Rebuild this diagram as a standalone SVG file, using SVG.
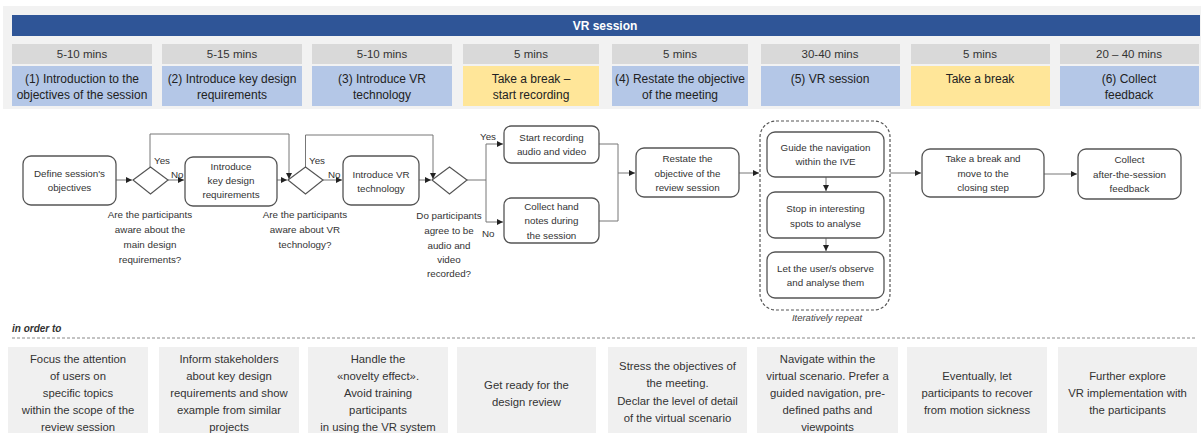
<svg xmlns="http://www.w3.org/2000/svg" width="1203" height="433" viewBox="0 0 1203 433">
<defs>
<style>
text{font-family:"Liberation Sans",Arial,sans-serif;fill:#333;text-anchor:middle}
.hd{font-size:12px;font-weight:bold;fill:#fff}
.du{font-size:11.5px}
.ph{font-size:12px;fill:#222}
.nt{font-size:9.8px;fill:#333}
.lb{font-size:9.8px;fill:#333;text-anchor:start}
.bt{font-size:11.3px;fill:#333}
.box{fill:#fff;stroke:#555;stroke-width:1.3}
.dia{fill:#fff;stroke:#555;stroke-width:1.2}
.cn{fill:none;stroke:#777;stroke-width:1}
.gr{fill:#d9d9d9}
.bl{fill:#b4c7e7}
.ye{fill:#ffe699}
.ob{fill:#f0f0f0}
</style>
<marker id="ah" markerWidth="7" markerHeight="6" refX="6" refY="3" orient="auto" markerUnits="userSpaceOnUse">
<path d="M0,0 L6,3 L0,6 z" fill="#222"/>
</marker>
</defs>
<rect width="1203" height="433" fill="#fff"/>
<g id="header">
<rect x="3" y="6" width="1198" height="103" fill="#f2f2f2"/>
<rect x="12" y="15" width="1188" height="21" fill="#2f5597"/>
<text class="hd" x="605" y="30">VR session</text>
</g>
<g id="phases">
<g id="ph1"><rect class="gr" x="12" y="44" width="140" height="20"/><text class="du" x="82" y="58">5-10 mins</text><rect class="bl" x="12" y="66" width="140" height="40"/><text class="ph" x="82" y="83">(1) Introduction to the<tspan x="82" y="99">objectives of the session</tspan></text></g>
<g id="ph2"><rect class="gr" x="162" y="44" width="140" height="20"/><text class="du" x="232" y="58">5-15 mins</text><rect class="bl" x="162" y="66" width="140" height="40"/><text class="ph" x="232" y="83">(2) Introduce key design<tspan x="232" y="99">requirements</tspan></text></g>
<g id="ph3"><rect class="gr" x="312" y="44" width="140" height="20"/><text class="du" x="382" y="58">5-10 mins</text><rect class="bl" x="312" y="66" width="140" height="40"/><text class="ph" x="382" y="83">(3) Introduce VR<tspan x="382" y="99">technology</tspan></text></g>
<g id="ph4"><rect class="gr" x="463" y="44" width="136" height="20"/><text class="du" x="531" y="58">5 mins</text><rect class="ye" x="463" y="66" width="136" height="40"/><text class="ph" x="531" y="83">Take a break –<tspan x="531" y="99">start recording</tspan></text></g>
<g id="ph5"><rect class="gr" x="612" y="44" width="136" height="20"/><text class="du" x="680" y="58">5 mins</text><rect class="bl" x="612" y="66" width="136" height="40"/><text class="ph" x="680" y="83">(4) Restate the objective<tspan x="680" y="99">of the meeting</tspan></text></g>
<g id="ph6"><rect class="gr" x="761" y="44" width="139" height="20"/><text class="du" x="830" y="58">30-40 mins</text><rect class="bl" x="761" y="66" width="139" height="40"/><text class="ph" x="830" y="83">(5) VR session</text></g>
<g id="ph7"><rect class="gr" x="911" y="44" width="139" height="20"/><text class="du" x="980" y="58">5 mins</text><rect class="ye" x="911" y="66" width="139" height="40"/><text class="ph" x="980" y="83">Take a break</text></g>
<g id="ph8"><rect class="gr" x="1060" y="44" width="139" height="20"/><text class="du" x="1129" y="58">20 – 40 mins</text><rect class="bl" x="1060" y="66" width="139" height="40"/><text class="ph" x="1129" y="83">(6) Collect<tspan x="1129" y="99">feedback</tspan></text></g>
</g>
<g id="connectors">
<path class="cn" d="M116,180 H132" marker-end="url(#ah)"/>
<path class="cn" d="M168,180 H184" marker-end="url(#ah)"/>
<path class="cn" d="M150,167 V134 H289 V179" marker-end="url(#ah)"/>
<path class="cn" d="M277,180 H287" marker-end="url(#ah)"/>
<path class="cn" d="M323,180 H342" marker-end="url(#ah)"/>
<path class="cn" d="M305.5,167 V135 H433 V179" marker-end="url(#ah)"/>
<path class="cn" d="M419,180 H431" marker-end="url(#ah)"/>
<path class="cn" d="M467,180 H486"/>
<path class="cn" d="M486,144 V222"/>
<path class="cn" d="M486,144 H503" marker-end="url(#ah)"/>
<path class="cn" d="M486,222 H503" marker-end="url(#ah)"/>
<path class="cn" d="M599,144 H618 V221 H599"/>
<path class="cn" d="M618,173 H635" marker-end="url(#ah)"/>
<path class="cn" d="M739,173 H759" marker-end="url(#ah)"/>
<path class="cn" d="M826,177 V191" marker-end="url(#ah)"/>
<path class="cn" d="M826,238 V251" marker-end="url(#ah)"/>
<path class="cn" d="M890,173 H921" marker-end="url(#ah)"/>
<path class="cn" d="M1044,174 H1077" marker-end="url(#ah)"/>
<text class="lb" x="154" y="164">Yes</text>
<text class="lb" x="171" y="178">No</text>
<text class="lb" x="309" y="164">Yes</text>
<text class="lb" x="328" y="178">No</text>
<text class="lb" x="480" y="140">Yes</text>
<text class="lb" x="482" y="237">No</text>
</g>
<g id="n-define"><rect class="box" x="23" y="156" width="93" height="49" rx="8"/><text class="nt" x="69.5" y="177">Define session's<tspan x="69.5" y="191">objectives</tspan></text></g>
<g id="d-q1"><path class="dia" d="M133,180 L150.5,167 L168,180 L150.5,194 z"/><text class="nt" x="150" y="218">Are the participants<tspan x="150" y="233">aware about the</tspan><tspan x="150" y="248">main design</tspan><tspan x="150" y="263">requirements?</tspan></text></g>
<g id="n-keyreq"><rect class="box" x="185" y="157" width="92" height="49" rx="8"/><text class="nt" x="231" y="170">Introduce<tspan x="231" y="184">key design</tspan><tspan x="231" y="198">requirements</tspan></text></g>
<g id="d-q2"><path class="dia" d="M288,180 L305.5,167 L323,180 L305.5,194 z"/><text class="nt" x="305" y="218">Are the participants<tspan x="305" y="233">aware about VR</tspan><tspan x="305" y="248">technology?</tspan></text></g>
<g id="n-vrtech"><rect class="box" x="343" y="156" width="76" height="49" rx="8"/><text class="nt" x="381" y="178">Introduce VR<tspan x="381" y="192">technology</tspan></text></g>
<g id="d-q3"><path class="dia" d="M432,180 L449.5,167 L467,180 L449.5,194 z"/><text class="nt" x="449" y="219">Do participants<tspan x="449" y="234">agree to be</tspan><tspan x="449" y="249">audio and</tspan><tspan x="449" y="263">video</tspan><tspan x="449" y="277">recorded?</tspan></text></g>
<g id="n-record"><rect class="box" x="504" y="126" width="95" height="37" rx="7"/><text class="nt" x="551.5" y="141">Start recording<tspan x="551.5" y="155">audio and video</tspan></text></g>
<g id="n-notes"><rect class="box" x="504" y="198" width="95" height="45" rx="7"/><text class="nt" x="551.5" y="210">Collect hand<tspan x="551.5" y="224">notes during</tspan><tspan x="551.5" y="239">the session</tspan></text></g>
<g id="n-restate"><rect class="box" x="636" y="148" width="103" height="49" rx="8"/><text class="nt" x="687.5" y="162">Restate the<tspan x="687.5" y="177">objective of the</tspan><tspan x="687.5" y="191">review session</tspan></text></g>
<g id="g-vrsession">
<rect x="760" y="121" width="130" height="189" rx="16" fill="none" stroke="#555" stroke-width="1.2" stroke-dasharray="3 2"/>
<g id="n-guide"><rect class="box" x="767" y="132" width="117" height="45" rx="8"/><text class="nt" x="825.5" y="151">Guide the navigation<tspan x="825.5" y="165">within the IVE</tspan></text></g>
<g id="n-stop"><rect class="box" x="767" y="192" width="117" height="46" rx="8"/><text class="nt" x="825.5" y="212">Stop in interesting<tspan x="825.5" y="227">spots to analyse</tspan></text></g>
<g id="n-observe"><rect class="box" x="767" y="252" width="117" height="46" rx="8"/><text class="nt" x="825.5" y="272">Let the user/s observe<tspan x="825.5" y="286">and analyse them</tspan></text></g>
<text x="827" y="321" style="font-size:9.5px;font-style:italic;fill:#444">Iteratively repeat</text>
</g>
<g id="n-break"><rect class="box" x="922" y="149" width="122" height="48" rx="8"/><text class="nt" x="983" y="162">Take a break and<tspan x="983" y="177">move to the</tspan><tspan x="983" y="191">closing step</tspan></text></g>
<g id="n-feedback"><rect class="box" x="1078" y="149" width="103" height="50" rx="8"/><text class="nt" x="1129.5" y="163">Collect<tspan x="1129.5" y="178">after-the-session</tspan><tspan x="1129.5" y="192">feedback</tspan></text></g>
<g id="purposes">
<text x="12" y="332" style="font-size:10px;font-weight:bold;font-style:italic;text-anchor:start;fill:#333">in order to</text>
<line x1="12" y1="338" x2="1197" y2="338" stroke="#888" stroke-width="1" stroke-dasharray="3 2"/>
<g id="p1"><rect class="ob" x="8" y="347" width="140" height="90"/><text class="bt" x="78" y="363">Focus the attention<tspan x="78" y="380">of users on</tspan><tspan x="78" y="397">specific topics</tspan><tspan x="78" y="414">within the scope of the</tspan><tspan x="78" y="431">review session</tspan></text></g>
<g id="p2"><rect class="ob" x="159" y="347" width="140" height="90"/><text class="bt" x="229" y="363">Inform stakeholders<tspan x="229" y="380">about key design</tspan><tspan x="229" y="397">requirements and show</tspan><tspan x="229" y="414">example from similar</tspan><tspan x="229" y="431">projects</tspan></text></g>
<g id="p3"><rect class="ob" x="308" y="347" width="140" height="90"/><text class="bt" x="378" y="363">Handle the<tspan x="378" y="380">«novelty effect».</tspan><tspan x="378" y="397">Avoid training</tspan><tspan x="378" y="414">participants</tspan><tspan x="378" y="431">in using the VR system</tspan></text></g>
<g id="p4"><rect class="ob" x="457" y="347" width="139" height="90"/><text class="bt" x="526.5" y="389">Get ready for the<tspan x="526.5" y="406">design review</tspan></text></g>
<g id="p5"><rect class="ob" x="608" y="347" width="139" height="90"/><text class="bt" x="677.5" y="370">Stress the objectives of<tspan x="677.5" y="387">the meeting.</tspan><tspan x="677.5" y="405">Declar the level of detail</tspan><tspan x="677.5" y="422">of the virtual scenario</tspan></text></g>
<g id="p6"><rect class="ob" x="757" y="347" width="141" height="90"/><text class="bt" x="827.5" y="363">Navigate within the<tspan x="827.5" y="380">virtual scenario. Prefer a</tspan><tspan x="827.5" y="397">guided navigation, pre-</tspan><tspan x="827.5" y="414">defined paths and</tspan><tspan x="827.5" y="431">viewpoints</tspan></text></g>
<g id="p7"><rect class="ob" x="907" y="347" width="140" height="90"/><text class="bt" x="977" y="380">Eventually, let<tspan x="977" y="397">participants to recover</tspan><tspan x="977" y="414">from motion sickness</tspan></text></g>
<g id="p8"><rect class="ob" x="1058" y="347" width="139" height="90"/><text class="bt" x="1127.5" y="380">Further explore<tspan x="1127.5" y="397">VR implementation with</tspan><tspan x="1127.5" y="414">the participants</tspan></text></g>
</g>
</svg>
